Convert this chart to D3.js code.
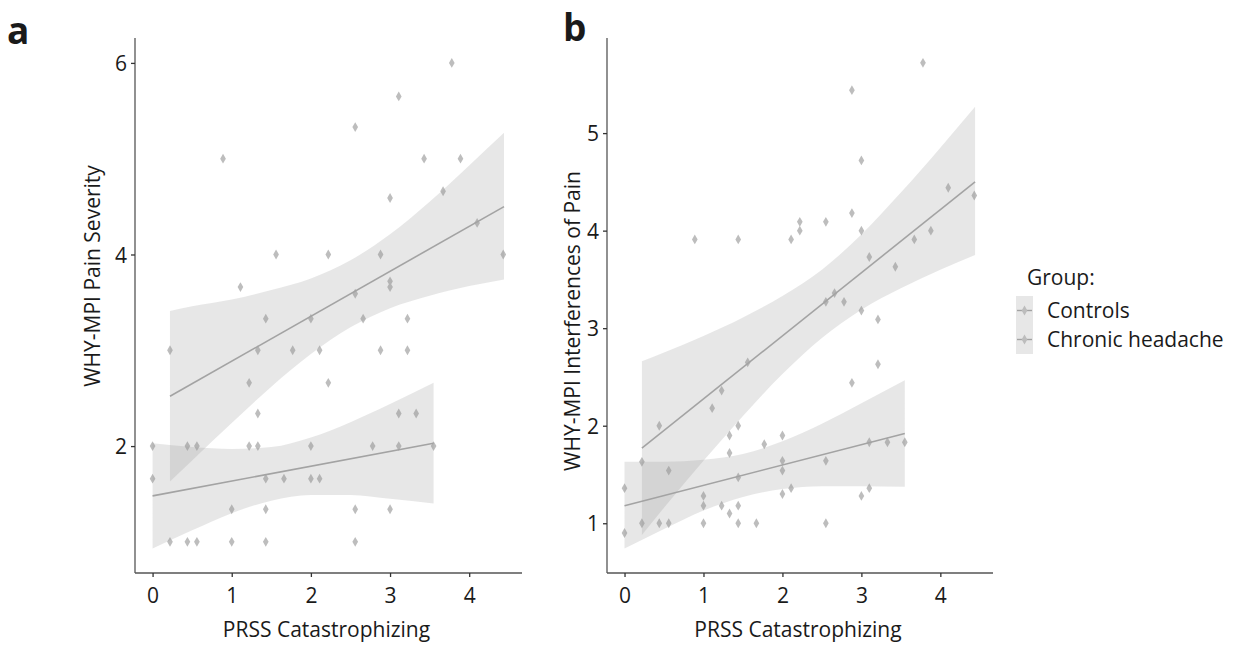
<!DOCTYPE html>
<html>
<head>
<meta charset="utf-8">
<script src="https://cdn.jsdelivr.net/npm/d3@7"></script>
<style>
  body { margin: 0; background: #fff; }
  text { font-family: "Open Sans", sans-serif; fill: #1a1a1a; }
</style>
</head>
<body>
<div id="chart"></div>
<script>
// panel a: PRSS catastrophizing vs WHY-MPI pain severity
var aX = [3.78, 3.11, 2.56, 0.89, 3.43, 3.89, 3.67, 3.0, 4.1, 1.56, 2.22, 2.88, 4.43,
  1.11, 3.0, 3.0, 2.56, 1.43, 2.0, 2.66, 3.22, 0.22, 1.33, 1.77, 2.11, 2.88, 3.22,
  1.22, 2.22, 1.33, 3.11, 3.33, 0, 0.44, 0.56, 1.22, 1.33, 2.0, 2.78, 3.11, 3.55,
  0, 1.43, 1.66, 2.0, 2.11, 1.0, 1.43, 2.56, 3.0, 0.22, 0.44, 0.56, 1.0, 1.43, 2.56]
var aY = [6.0, 5.65, 5.33, 5.0, 5.0, 5.0, 4.66, 4.59, 4.33, 4.0, 4.0, 4.0, 4.0,
  3.66, 3.72, 3.66, 3.59, 3.33, 3.33, 3.33, 3.33, 3.0, 3.0, 3.0, 3.0, 3.0, 3.0,
  2.66, 2.66, 2.34, 2.34, 2.34, 2.0, 2.0, 2.0, 2.0, 2.0, 2.0, 2.0, 2.0, 2.0,
  1.66, 1.66, 1.66, 1.66, 1.66, 1.34, 1.34, 1.34, 1.34, 1.0, 1.0, 1.0, 1.0, 1.0, 1.0]

// panel b: PRSS catastrophizing vs WHY-MPI interference
var bX = [3.78, 2.88, 3.0, 4.1, 4.43, 2.88, 2.22, 2.55, 2.22, 3.0, 3.88, 0.89, 1.44,
  2.11, 3.67, 3.1, 3.43, 2.66, 2.55, 2.78, 3.0, 3.21, 3.21, 2.88, 1.56, 1.23, 1.11,
  0.44, 1.44, 1.33, 2.0, 1.77, 3.1, 3.33, 3.55, 1.33, 0.22, 2.0, 2.55, 0.56, 2.0,
  1.44, 0, 2.11, 3.1, 2.0, 1.0, 3.0, 1.0, 1.23, 1.44, 1.33, 0.22, 0.44, 0.56, 1.0,
  1.44, 1.67, 2.55, 0]
var bY = [5.72, 5.44, 4.72, 4.44, 4.36, 4.18, 4.09, 4.09, 4.0, 4.0, 4.0, 3.91, 3.91,
  3.91, 3.91, 3.73, 3.63, 3.36, 3.27, 3.27, 3.18, 3.09, 2.63, 2.44, 2.65, 2.36, 2.18,
  2.0, 2.0, 1.9, 1.9, 1.81, 1.83, 1.83, 1.83, 1.72, 1.63, 1.64, 1.64, 1.54, 1.54,
  1.47, 1.36, 1.36, 1.36, 1.3, 1.28, 1.28, 1.18, 1.18, 1.18, 1.1, 1.0, 1.0, 1.0, 1.0,
  1.0, 1.0, 1.0, 0.9]

var groups = ["Controls", "Chronic headache"]

// linear fits and 95% bands
var aCtrlFitX = [0, 3.55]
var aCtrlFitY = [1.48, 2.03]
var aCtrlBandX = [0, 0.5, 1.0, 1.5, 2.0, 2.5, 3.0, 3.55]
var aCtrlBandLo = [0.93, 1.12, 1.30, 1.43, 1.49, 1.49, 1.45, 1.40]
var aCtrlBandHi = [2.03, 1.99, 1.97, 1.99, 2.09, 2.25, 2.44, 2.66]

var aChFitX = [0.22, 4.44]
var aChFitY = [2.52, 4.50]
var aChBandX = [0.22, 0.5, 1.0, 1.5, 2.0, 2.5, 3.0, 3.5, 4.0, 4.44]
var aChBandLo = [1.63, 1.85, 2.24, 2.62, 2.96, 3.24, 3.44, 3.57, 3.67, 3.74]
var aChBandHi = [3.41, 3.46, 3.53, 3.63, 3.75, 3.94, 4.21, 4.55, 4.93, 5.27]

var bCtrlFitX = [0, 3.55]
var bCtrlFitY = [1.18, 1.92]
var bCtrlBandX = [0, 0.5, 1.0, 1.5, 2.0, 2.5, 3.0, 3.55]
var bCtrlBandLo = [0.74, 0.94, 1.13, 1.27, 1.35, 1.38, 1.38, 1.375]
var bCtrlBandHi = [1.63, 1.63, 1.65, 1.71, 1.84, 2.02, 2.23, 2.465]

var bChFitX = [0.22, 4.44]
var bChFitY = [1.77, 4.50]
var bChBandX = [0.22, 0.5, 1.0, 1.5, 2.0, 2.5, 3.0, 3.5, 4.0, 4.44]
var bChBandLo = [0.88, 1.16, 1.64, 2.10, 2.53, 2.90, 3.19, 3.41, 3.60, 3.75]
var bChBandHi = [2.66, 2.75, 2.92, 3.11, 3.33, 3.60, 3.96, 4.39, 4.85, 5.27]

var xTicks = [0, 1, 2, 3, 4]
var aYTicks = [2, 4, 6]
var bYTicks = [1, 2, 3, 4, 5]

var svgWidth = 1257
var svgHeight = 648

var pointColor = "#bdbdbd"
var lineColor = "#a3a3a3"
var bandColor = "#999999"
var bandOpacity = 0.24
var axisColor = "#555555"

var svg = d3.select("#chart")
  .append("svg")
  .attr("width", svgWidth)
  .attr("height", svgHeight)

var diamond = d3.symbol().type(d3.symbolDiamond).size(28)

function drawPanel(p) {
  var x = d3.scaleLinear().domain([-0.222, 4.667]).range([p.left, p.right])
  var y = d3.scaleLinear().domain(p.yDomain).range([p.bottom, p.top])

  var g = svg.append("g")

  // points
  g.selectAll(".pt")
    .data(d3.zip(p.xs, p.ys))
    .enter()
    .append("path")
    .attr("d", diamond)
    .attr("transform", d => `translate(${x(d[0])}, ${y(d[1])})`)
    .attr("fill", pointColor)

  // bands
  p.fits.forEach(function(f) {
    var area = d3.area()
      .x(d => x(d[0]))
      .y0(d => y(d[1]))
      .y1(d => y(d[2]))
      .curve(d3.curveMonotoneX)
    g.append("path")
      .datum(d3.zip(f.bandX, f.lo, f.hi))
      .attr("d", area)
      .attr("fill", bandColor)
      .attr("fill-opacity", bandOpacity)
  })

  // fit lines
  p.fits.forEach(function(f) {
    g.append("path")
      .datum(d3.zip(f.fitX, f.fitY))
      .attr("d", d3.line().x(d => x(d[0])).y(d => y(d[1])))
      .attr("fill", "none")
      .attr("stroke", lineColor)
      .attr("stroke-width", 1.6)
  })

  // axes
  var bottomAxis = d3.axisBottom(x).tickValues(xTicks).tickFormat(d3.format("d"))
    .tickSize(4).tickPadding(6)
  var leftAxis = d3.axisLeft(y).tickValues(p.yTicks).tickFormat(d3.format("d"))
    .tickSize(4).tickPadding(4)

  var xAxis = g.append("g")
    .attr("transform", `translate(0, ${p.bottom})`)
    .call(bottomAxis)
  var yAxis = g.append("g")
    .attr("transform", `translate(${p.left}, 0)`)
    .call(leftAxis)

  ;[xAxis, yAxis].forEach(function(a) {
    a.select(".domain").attr("stroke", axisColor).attr("stroke-width", 1.3)
    a.selectAll(".tick line").attr("stroke", "#333").attr("stroke-width", 1.3)
    a.selectAll(".tick text")
      .attr("fill", "#1a1a1a")
      .style("font-family", "'Open Sans', sans-serif")
      .style("font-size", "21px")
  })
  // ggplot-style axis lines without end caps
  xAxis.select(".domain").attr("d", `M${p.left},0H${p.right}`)
  yAxis.select(".domain").attr("d", `M0,${p.bottom}V${p.top}`)
  xAxis.selectAll(".tick text").attr("dy", "0.95em")
  yAxis.selectAll(".tick text").attr("dy", "0.36em")

  // titles
  g.append("text")
    .attr("x", (p.left + p.right) / 2 - 2)
    .attr("y", 637)
    .attr("text-anchor", "middle")
    .style("font-size", "21px")
    .text("PRSS Catastrophizing")

  g.append("text")
    .attr("transform", `translate(${p.yTitleX}, ${p.yTitleY}) rotate(-90)`)
    .attr("text-anchor", "middle")
    .style("font-size", "21px")
    .text(p.yTitle)

  g.append("text")
    .attr("x", p.tagX)
    .attr("y", p.tagY)
    .style("font-size", "37px")
    .style("font-weight", "bold")
    .attr("fill", "#000")
    .text(p.tag)
}

drawPanel({
  left: 135, right: 522, top: 38, bottom: 573,
  yDomain: [0.675, 6.26],
  yTicks: aYTicks,
  xs: aX, ys: aY,
  fits: [
    {fitX: aCtrlFitX, fitY: aCtrlFitY, bandX: aCtrlBandX, lo: aCtrlBandLo, hi: aCtrlBandHi},
    {fitX: aChFitX, fitY: aChFitY, bandX: aChBandX, lo: aChBandLo, hi: aChBandHi}
  ],
  yTitle: "WHY-MPI Pain Severity", yTitleX: 100, yTitleY: 276,
  tag: "a", tagX: 7, tagY: 44
})

drawPanel({
  left: 607, right: 993, top: 38, bottom: 573,
  yDomain: [0.49, 5.975],
  yTicks: bYTicks,
  xs: bX, ys: bY,
  fits: [
    {fitX: bCtrlFitX, fitY: bCtrlFitY, bandX: bCtrlBandX, lo: bCtrlBandLo, hi: bCtrlBandHi},
    {fitX: bChFitX, fitY: bChFitY, bandX: bChBandX, lo: bChBandLo, hi: bChBandHi}
  ],
  yTitle: "WHY-MPI Interferences of Pain", yTitleX: 580, yTitleY: 321,
  tag: "b", tagX: 563, tagY: 41
})

// legend
var keyH = 29
var legend = svg.append("g").attr("transform", "translate(1016, 0)")

legend.append("text")
  .attr("x", 11)
  .attr("y", 285)
  .style("font-size", "21px")
  .text("Group:")

var keys = legend.selectAll(".key")
  .data(groups)
  .enter()
  .append("g")
  .attr("transform", (d, i) => `translate(0, ${296 + i * keyH})`)

keys.append("rect")
  .attr("width", 17)
  .attr("height", keyH)
  .attr("fill", bandColor)
  .attr("fill-opacity", bandOpacity)

keys.append("line")
  .attr("x1", 1).attr("x2", 16)
  .attr("y1", keyH / 2).attr("y2", keyH / 2)
  .attr("stroke", lineColor)
  .attr("stroke-width", 1.4)

keys.append("path")
  .attr("d", diamond)
  .attr("transform", `translate(8.5, ${keyH / 2})`)
  .attr("fill", pointColor)

keys.append("text")
  .attr("x", 31)
  .attr("y", keyH / 2)
  .attr("dy", "0.36em")
  .style("font-size", "21px")
  .text(d => d)
</script>
</body>
</html>
